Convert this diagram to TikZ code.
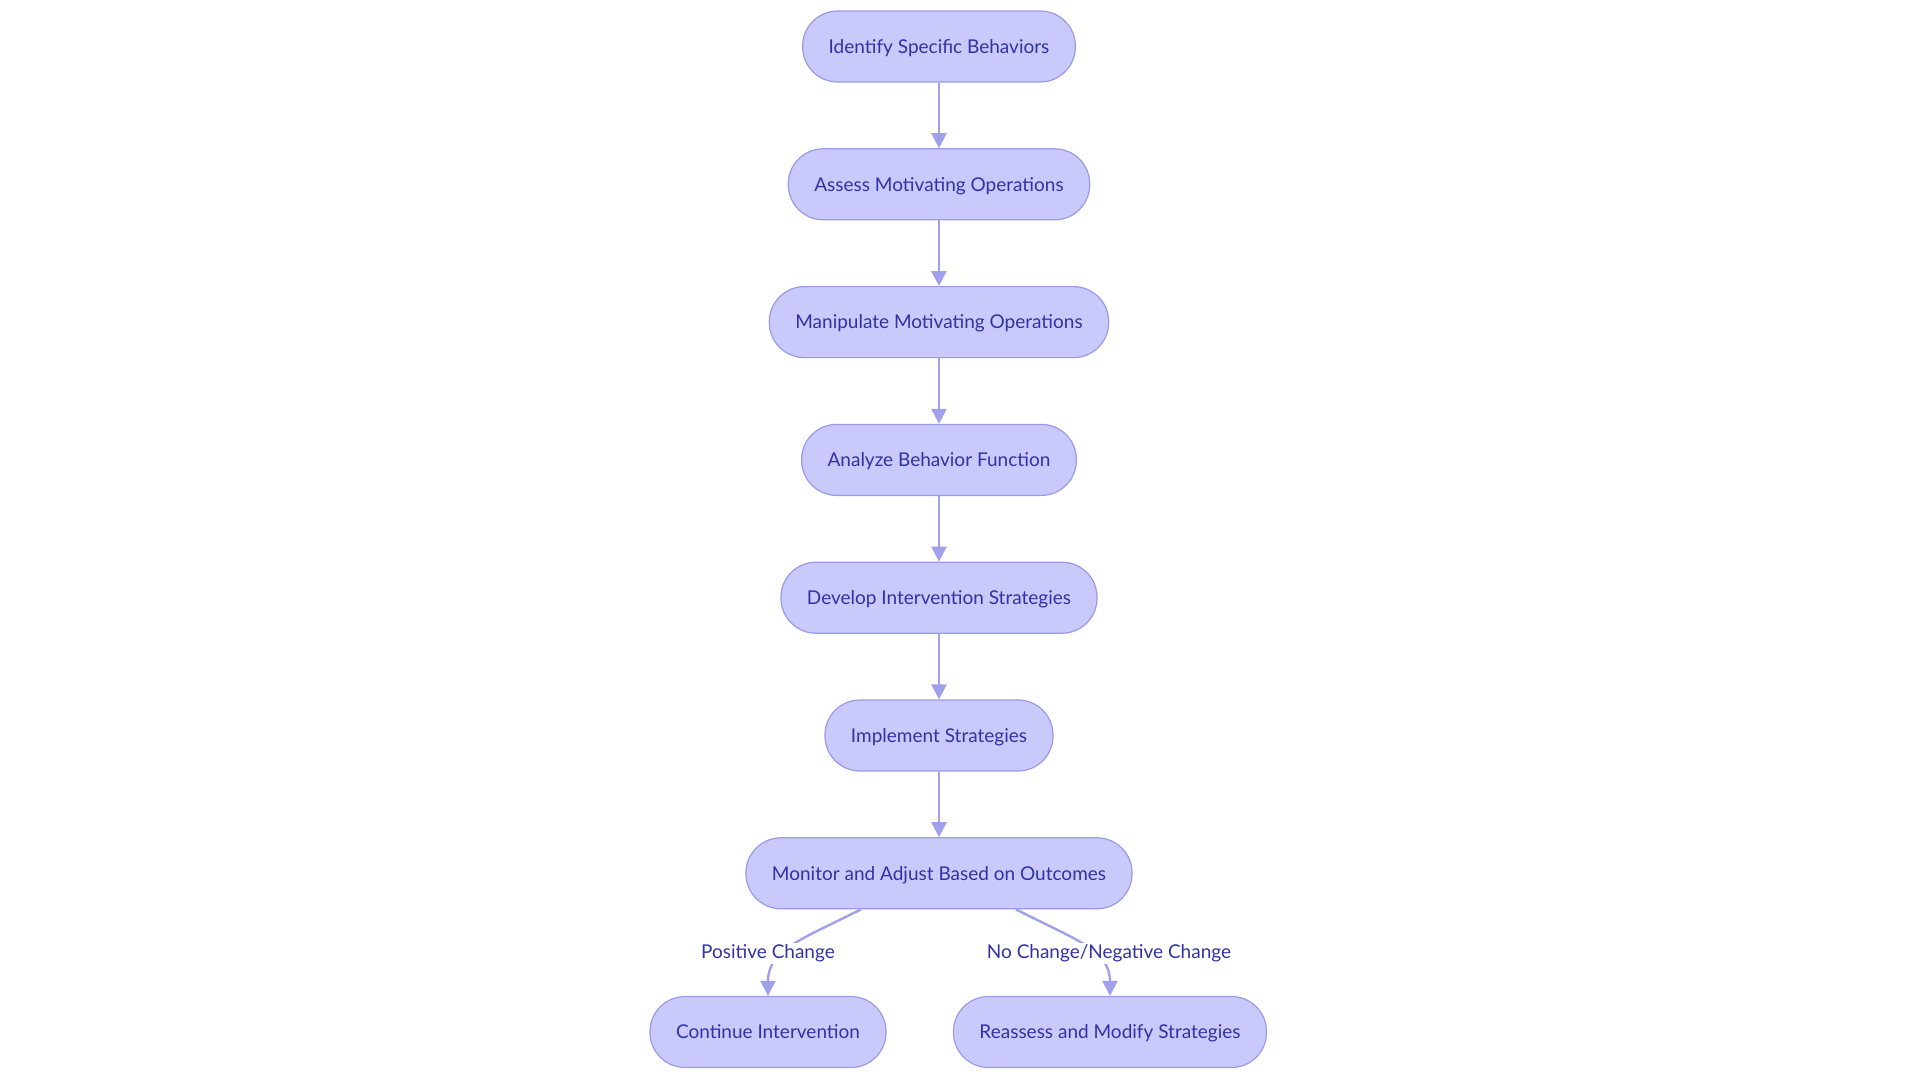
\documentclass[tikz,border=0pt]{standalone}
\usepackage{fontspec}
\setmainfont{Lato}
\usetikzlibrary{arrows.meta, positioning, shapes.misc}
\definecolor{mofill}{HTML}{C9C9FB}
\definecolor{moline}{HTML}{9A9AE8}
\definecolor{motext}{HTML}{3232A8}
\definecolor{moarrow}{HTML}{A0A0EC}
\tikzset{
  stepbox/.style={rectangle, rounded corners=35pt, draw=moline, fill=mofill,
    line width=1.2pt, text=motext, font=\fontsize{19}{23}\selectfont,
    text height=16.5pt, text depth=3pt,
    minimum height=71pt, inner xsep=26pt},
  flow/.style={-{Triangle[length=15pt, width=15pt]}, draw=moarrow, line width=2.4pt},
  branch/.style={font=\fontsize{19}{23}\selectfont, text=motext, fill=white,
    text height=15pt, text depth=4pt, inner sep=1pt},
}

\begin{document}
\begin{tikzpicture}[x=1pt, y=-1pt]
\useasboundingbox (0,0) rectangle (1920,1080);

% ---- main chain
\foreach \i/\name/\text in {
  0/identify/Identify Specific Behaviors,
  1/assess/Assess Motivating Operations,
  2/manipulate/Manipulate Motivating Operations,
  3/analyze/Analyze Behavior Function,
  4/develop/Develop Intervention Strategies,
  5/implement/Implement Strategies,
  6/monitor/Monitor and Adjust Based on Outcomes} {
  \node[stepbox] (\name) at (939, 46.5 + 137.8*\i) {\text};
}
\foreach \a/\b in {identify/assess, assess/manipulate, manipulate/analyze,
    analyze/develop, develop/implement, implement/monitor} {
  \draw[flow] (\a) -- (\b);
}

% ---- outcomes
\node[stepbox] (continue) at (768, 1032) {Continue Intervention};
\node[stepbox] (reassess) at (1110, 1032) {Reassess and Modify Strategies};

\draw[flow] ([xshift=-78pt]monitor.south) .. controls (800, 940) and (768, 950) .. (continue.north);
\draw[flow] ([xshift=77pt]monitor.south) .. controls (1076, 940) and (1110, 950) .. (reassess.north);
\node[branch] (poslbl) at (768, 953) {Positive Change};
\node[branch] (neglbl) at (1109, 953) {No Change/Negative Change};

\end{tikzpicture}
\end{document}
